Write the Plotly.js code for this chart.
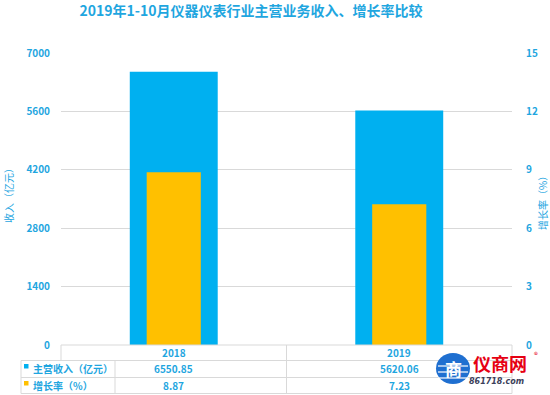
<!DOCTYPE html>
<html>
<head>
<meta charset="utf-8">
<script src="https://cdn.plot.ly/plotly-3.0.1.min.js"></script>
<style>html,body{margin:0;padding:0;background:#fff;}#chart{width:550px;height:395px;}</style>
</head>
<body>
<div id="chart"></div>
<script>
const categories = ['2018', '2019'];
const revenue = [6550.85, 5620.06];
const growth = [8.87, 7.23];
const seriesNames = ['主营收入（亿元）', '增长率（%）'];
const leftTicks = [0, 1400, 2800, 4200, 5600, 7000];
const rightTicks = [0, 3, 6, 9, 12, 15];
const titleText = '2019年1-10月仪器仪表行业主营业务收入、增长率比较';
const leftTitle = '收入（亿元）';
const rightTitle = '增长率（%）';

const BLUE = '#00b0f0', ORANGE = '#ffc000', TXT = '#1fa6df', LINE = '#d9d9d9';
const FONT = '"Noto Sans CJK SC", "Noto Sans", sans-serif';
const W = 550, H = 395;
const L = 61, R = 512, T = 53, B = 345;
const px = v => (v - L) / (R - L);
const py = v => (B - v) / (B - T);

const traces = [
  {type: 'bar', x: categories, y: revenue, name: seriesNames[0], width: 0.39,
   marker: {color: BLUE}, yaxis: 'y', hoverinfo: 'skip'},
  {type: 'bar', x: categories, y: growth, name: seriesNames[1], width: 0.24,
   marker: {color: ORANGE}, yaxis: 'y2', hoverinfo: 'skip'}
];

const shapes = [];
function hline(y, x0, x1) { shapes.push({type: 'line', xref: 'paper', yref: 'paper', x0: px(x0), x1: px(x1), y0: py(y), y1: py(y), line: {color: LINE, width: 1}}); }
function vline(x, y0, y1) { shapes.push({type: 'line', xref: 'paper', yref: 'paper', x0: px(x), x1: px(x), y0: py(y0), y1: py(y1), line: {color: LINE, width: 1}}); }
hline(345, 61, 512);
hline(360.5, 21, 512);
hline(377.5, 21, 512);
hline(393.5, 21, 512);
vline(61, 345, 360.5);
vline(21, 360.5, 393.5);
vline(115, 360.5, 393.5);
vline(512, 345, 393.5);
shapes.push({type: 'line', xref: 'x', yref: 'paper', x0: 0.5, x1: 0.5, y0: py(345), y1: py(393.5), line: {color: LINE, width: 1}});
// legend keys
shapes.push({type: 'rect', xref: 'paper', yref: 'paper', x0: px(24), x1: px(28.5), y0: py(364), y1: py(368.5), fillcolor: BLUE, line: {width: 0}});
shapes.push({type: 'rect', xref: 'paper', yref: 'paper', x0: px(24), x1: px(28.5), y0: py(381), y1: py(385.5), fillcolor: ORANGE, line: {width: 0}});
// watermark globe
shapes.push({type: 'circle', xref: 'paper', yref: 'paper', x0: px(436), x1: px(470), y0: py(353), y1: py(384), fillcolor: '#1f6fd0', line: {width: 0}});
[366, 372, 378].forEach(y => shapes.push({type: 'line', xref: 'paper', yref: 'paper', x0: px(438), x1: px(468), y0: py(y), y1: py(y), line: {color: '#ffffff', width: 1.2}}));

const annotations = [];
function ann(o) { annotations.push(Object.assign({showarrow: false, xref: 'paper', yref: 'paper', font: {family: FONT, size: 10, color: TXT}}, o)); }

categories.forEach((c, i) => {
  ann({xref: 'x', x: i, y: py(352.5), text: '<b>' + c + '</b>', yanchor: 'middle'});
  ann({xref: 'x', x: i, y: py(369), text: '<b>' + revenue[i].toFixed(2) + '</b>', yanchor: 'middle'});
  ann({xref: 'x', x: i, y: py(385.5), text: '<b>' + growth[i].toFixed(2) + '</b>', yanchor: 'middle'});
});
ann({x: px(31), y: py(369), text: '<b>' + seriesNames[0] + '</b>', xanchor: 'left', yanchor: 'middle'});
ann({x: px(31), y: py(385.5), text: '<b>' + seriesNames[1] + '</b>', xanchor: 'left', yanchor: 'middle'});
ann({x: px(8), y: py(193), text: leftTitle, textangle: -90, xanchor: 'center', yanchor: 'middle'});
ann({x: px(542), y: py(201), text: rightTitle, textangle: -90, xanchor: 'center', yanchor: 'middle'});
// watermark
ann({x: px(453), y: py(368.5), text: '<b>商</b>', font: {family: FONT, size: 17, color: '#ffffff'}, xanchor: 'center', yanchor: 'middle'});
ann({x: px(500), y: py(363), text: '<b>仪商网</b>', font: {family: FONT, size: 18, color: '#e60012'}, xanchor: 'center', yanchor: 'middle'});
ann({x: px(536), y: py(354), text: '®', font: {family: FONT, size: 8, color: '#e60012'}, xanchor: 'center', yanchor: 'middle'});
ann({x: px(496), y: py(381.5), text: '<b><i>861718.com</i></b>', font: {family: 'DejaVu Sans', size: 8, color: '#3c3f5a'}, xanchor: 'center', yanchor: 'middle'});

const layout = {
  width: W, height: H,
  margin: {l: L, r: W - R, t: T, b: H - B, pad: 0},
  paper_bgcolor: '#ffffff', plot_bgcolor: '#ffffff',
  showlegend: false,
  barmode: 'overlay',
  title: {text: '<b>' + titleText + '</b>', x: 251 / W, xanchor: 'center', xref: 'container',
          y: 1 - 11 / H, yanchor: 'middle', yref: 'container',
          font: {family: FONT, size: 14, color: TXT}},
  xaxis: {type: 'category', categoryarray: categories, range: [-0.5, 1.5], showticklabels: false,
          showgrid: false, zeroline: false, showline: false, ticks: ''},
  yaxis: {range: [0, 7000], tickvals: leftTicks, ticktext: leftTicks.map(v => '<b>' + v + '</b>'),
          showgrid: true, gridcolor: LINE, gridwidth: 1, zeroline: false, showline: false, ticks: '',
          ticklabelstandoff: 10, tickfont: {family: FONT, size: 10, color: TXT}},
  yaxis2: {range: [0, 15], tickvals: rightTicks, ticktext: rightTicks.map(v => '<b>' + v + '</b>'),
           overlaying: 'y', side: 'right', showgrid: false, zeroline: false, showline: false, ticks: '',
           ticklabelstandoff: 13, tickfont: {family: FONT, size: 10, color: TXT}},
  shapes: shapes,
  annotations: annotations
};

Plotly.newPlot('chart', traces, layout, {displayModeBar: false, staticPlot: true});
</script>
</body>
</html>
